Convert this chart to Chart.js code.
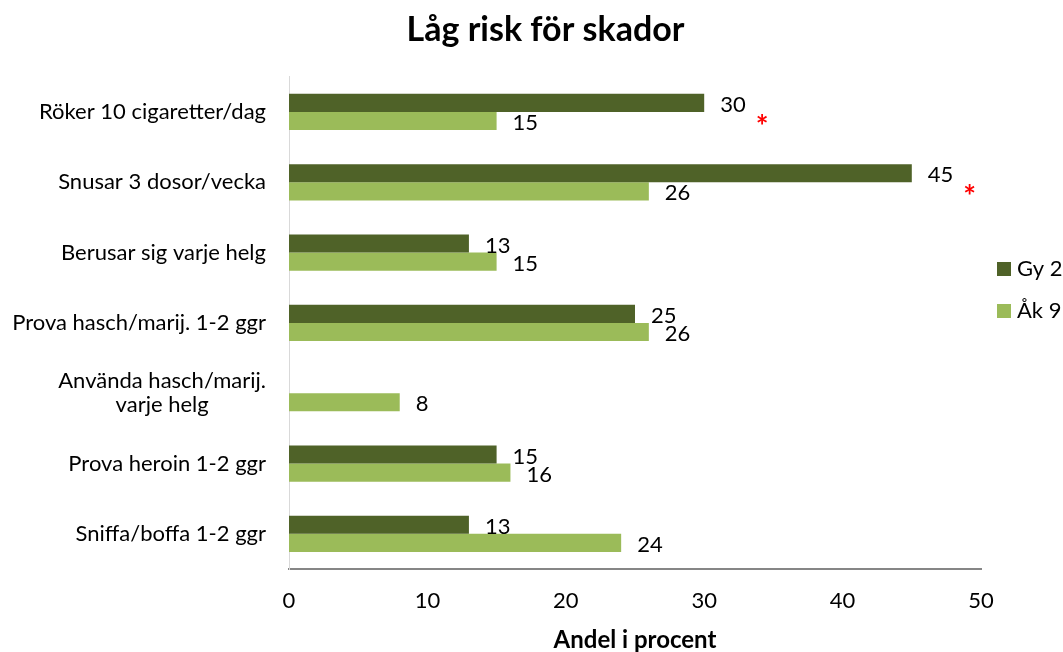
<!DOCTYPE html>
<html>
<head>
<meta charset="utf-8">
<script src="https://cdn.jsdelivr.net/npm/chart.js@4/dist/chart.umd.min.js"></script>
<style>
  html, body { margin: 0; padding: 0; background: #ffffff; }
  #wrap { width: 1063px; height: 652px; position: relative; }
</style>
</head>
<body>
<div id="wrap"><canvas id="c" width="1063" height="652"></canvas></div>
<script>
const categories = [
  "Röker 10 cigaretter/dag",
  "Snusar 3 dosor/vecka",
  "Berusar sig varje helg",
  "Prova hasch/marij. 1-2 ggr",
  ["Använda hasch/marij.", "varje helg"],
  "Prova heroin 1-2 ggr",
  "Sniffa/boffa 1-2 ggr"
];
const seriesNames = ["Gy 2", "Åk 9"];
const gy2Values = [30, 45, 13, 25, null, 15, 13];
const ak9Values = [15, 26, 15, 26, 8, 16, 24];
const significant = [true, true, false, false, false, false, false];
const xTicks = [0, 10, 20, 30, 40, 50];
const titleText = "Låg risk för skador";
const xTitle = "Andel i procent";

const FONT = "Lato";
const LABEL_SIZE = 22;
const DARK = "#4F6228";
const LIGHT = "#9BBB59";

const customPlugin = {
  id: "custom",
  afterDraw(chart) {
    const ctx = chart.ctx;
    const ys = chart.scales.y;
    const area = chart.chartArea;
    ctx.save();
    ctx.font = LABEL_SIZE + "px " + FONT;
    ctx.fillStyle = "#000000";
    ctx.textBaseline = "middle";
    // category labels
    categories.forEach((lab, i) => {
      const y = ys.getPixelForTick(i);
      const lines = Array.isArray(lab) ? lab : [lab];
      let maxW = 0;
      lines.forEach(l => { maxW = Math.max(maxW, ctx.measureText(l).width); });
      const cx = area.left - 23 - maxW / 2;
      const lh = 24;
      const y0 = y - (lines.length - 1) * lh / 2;
      ctx.textAlign = "center";
      lines.forEach((l, k) => ctx.fillText(l, cx, y0 + k * lh));
    });
    // value labels
    ctx.textAlign = "left";
    chart.data.datasets.forEach((ds, di) => {
      const meta = chart.getDatasetMeta(di);
      meta.data.forEach((bar, i) => {
        const v = ds.data[i];
        if (v === null || v === undefined) return;
        const txt = String(v);
        const x = bar.x + 16;
        const y = bar.y + 2;
        ctx.fillStyle = "#000000";
        ctx.font = LABEL_SIZE + "px " + FONT;
        ctx.fillText(txt, x, y);
        if (di === 0 && significant[i]) {
          const w = ctx.measureText(txt).width;
          ctx.fillStyle = "#FF0000";
          ctx.font = "bold 30px " + FONT;
          ctx.fillText("*", x + w + 10, y + 22);
        }
      });
    });
    // legend
    const legendItems = [
      { name: seriesNames[0], color: DARK, y: 269 },
      { name: seriesNames[1], color: LIGHT, y: 311 }
    ];
    ctx.font = LABEL_SIZE + "px " + FONT;
    legendItems.forEach(it => {
      ctx.fillStyle = it.color;
      ctx.fillRect(997, it.y - 7, 14, 14);
      ctx.fillStyle = "#000000";
      ctx.textAlign = "left";
      ctx.fillText(it.name, 1017, it.y);
    });
    ctx.restore();
  }
};

new Chart(document.getElementById("c"), {
  type: "bar",
  data: {
    labels: categories,
    datasets: [
      { label: seriesNames[0], data: gy2Values, backgroundColor: DARK },
      { label: seriesNames[1], data: ak9Values, backgroundColor: LIGHT }
    ]
  },
  options: {
    indexAxis: "y",
    responsive: false,
    animation: false,
    devicePixelRatio: 1,
    layout: { padding: { left: 110, right: 82, top: 0, bottom: 0 } },
    datasets: { bar: { categoryPercentage: 0.515, barPercentage: 1.0 } },
    plugins: {
      legend: { display: false },
      tooltip: { enabled: false },
      title: {
        display: true,
        text: titleText,
        color: "#000000",
        font: { family: FONT, size: 34, weight: "bold" },
        padding: { top: 10, bottom: 26 }
      }
    },
    scales: {
      x: {
        min: 0, max: 50,
        afterBuildTicks(scale) { scale.ticks = xTicks.map(v => ({ value: v })); },
        afterFit(scale) { scale.height = 83; },
        grid: { display: false, drawTicks: false },
        border: { display: true, color: "#868686", width: 2 },
        ticks: { color: "#000000", font: { family: FONT, size: LABEL_SIZE }, padding: 19 },
        title: {
          display: true, text: xTitle, color: "#000000",
          font: { family: FONT, size: 24, weight: "bold" },
          padding: { top: 0, bottom: -3 }
        }
      },
      y: {
        afterFit(scale) { scale.width = 179; },
        grid: { display: false, drawTicks: false },
        border: { display: true, color: "#D9D9D9", width: 1 },
        ticks: { display: false }
      }
    }
  },
  plugins: [customPlugin]
});
</script>
</body>
</html>
